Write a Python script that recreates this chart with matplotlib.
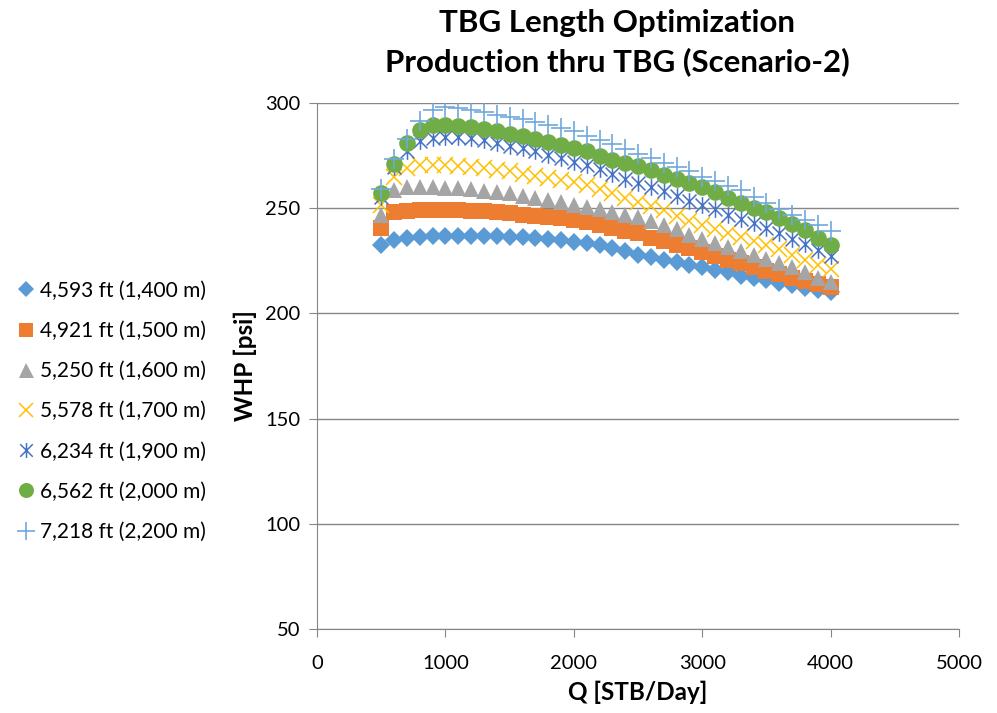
import numpy as np
import matplotlib
matplotlib.use("Agg")
from matplotlib import pyplot as plt
from matplotlib.path import Path

plt.rcParams['font.family'] = ['Lato', 'DejaVu Sans']

# flow rate, STB/Day
q = [500, 600, 700, 800, 900, 1000, 1100, 1200, 1300, 1400, 1500, 1600,
     1700, 1800, 1900, 2000, 2100, 2200, 2300, 2400, 2500, 2600, 2700, 2800,
     2900, 3000, 3100, 3200, 3300, 3400, 3500, 3600, 3700, 3800, 3900, 4000]

# WHP, psi, one list per tubing length
whp_1400 = [232.5, 235, 236, 236.5, 237, 237, 237, 237, 237, 237, 236.5, 236.5,
            236, 235.5, 235, 234, 233.5, 232.5, 231, 229.5, 228, 227, 225.5, 224.5,
            223, 222, 220.5, 219.5, 218, 217, 216, 214.5, 213.5, 212, 211, 210]
whp_1500 = [240.5, 248, 248.5, 249, 249, 249, 249, 248.5, 248.5, 248, 247.5, 247,
            246.5, 246, 245.5, 244.5, 243.5, 242, 240.5, 239, 238, 236, 234.5, 232.5,
            231, 229, 227.5, 225.5, 224, 222, 220, 218.5, 217, 215.5, 214, 212.5]
whp_1600 = [247, 258.5, 260, 260, 260, 259.5, 259.5, 259, 258, 257.5, 257, 256,
            255, 254, 253, 251.5, 250.5, 249.5, 248, 247, 246, 244, 242, 240,
            237.5, 235.5, 233.5, 231.5, 229.5, 228, 226, 224, 222, 219.5, 217, 215]
whp_1700 = [251.5, 265, 269, 270.5, 270.5, 270.5, 270, 269.5, 269, 268, 267.5, 266.5,
            265.5, 264.5, 263.5, 262.5, 261, 259, 257, 255, 253, 251, 249, 246.5,
            244, 242, 240, 238, 236.5, 234.5, 232.5, 230.5, 228, 225.5, 223, 221]
whp_1900 = [255.5, 269.5, 277, 282, 283.5, 284, 284, 283.5, 282.5, 281, 279.5, 278.5,
            277, 275.5, 274, 272, 270.5, 268.5, 266.5, 264, 262, 260, 258, 256,
            253.5, 251.5, 249.5, 247, 245, 243, 240.5, 238, 235.5, 233, 230, 227.5]
whp_2000 = [257, 271, 281, 287, 289.5, 289.5, 289, 288.5, 287.5, 286.5, 285.5, 284.5,
            283, 281.5, 280, 278.5, 277, 275, 273, 271.5, 270, 268, 266, 264,
            262, 260, 257.5, 255, 252.5, 250, 248, 245.5, 242.5, 239.5, 236, 232.5]
whp_2200 = [259, 273.5, 283, 291.5, 296.5, 298, 297.5, 296.5, 295.5, 294.5, 293.5, 292.5,
            291, 289.5, 288, 286.5, 284.5, 282.5, 280.5, 278, 276, 274, 271.5, 269.5,
            267.5, 265, 263, 260.5, 258.5, 255.5, 252.5, 249.5, 247, 244.5, 242, 239]

labels = ['4,593 ft (1,400 m)', '4,921 ft (1,500 m)', '5,250 ft (1,600 m)',
          '5,578 ft (1,700 m)', '6,234 ft (1,900 m)', '6,562 ft (2,000 m)',
          '7,218 ft (2,200 m)']

# excel style asterisk: an x with a vertical bar
star = Path([(-0.5, -0.5), (0.5, 0.5), (-0.5, 0.5), (0.5, -0.5), (0, -0.6), (0, 0.6)],
            [Path.MOVETO, Path.LINETO, Path.MOVETO, Path.LINETO, Path.MOVETO, Path.LINETO])

styles = [
    dict(marker='D', ms=9.5, color='#5B9BD5', mew=0),
    dict(marker='s', ms=11, color='#ED7D31', mew=0),
    dict(marker='^', ms=12, color='#A5A5A5', mew=0),
    dict(marker='x', ms=11, color='#FFC000', mew=1.1),
    dict(marker=star, ms=12, color='#4472C4', mew=1.1),
    dict(marker='o', ms=12, color='#70AD47', mew=0),
    dict(marker='+', ms=14, color='#6FA8DC', mew=1.2),
]

series = [whp_1400, whp_1500, whp_1600, whp_1700, whp_1900, whp_2000, whp_2200]

fig = plt.figure(figsize=(9.97, 7.13), dpi=100)
ax = fig.add_axes([0.318, 0.1178, 0.644, 0.7377])

for vals, lab, st in zip(series, labels, styles):
    ax.plot(q, vals, linestyle='none', label=lab, **st)

ax.set_xlim(0, 5000)
ax.set_ylim(50, 300)
ax.set_xticks([0, 1000, 2000, 3000, 4000, 5000])
ax.set_yticks([50, 100, 150, 200, 250, 300])
ax.yaxis.grid(True, color='#868686', lw=1)
ax.set_axisbelow(True)
for side in ['top', 'right']:
    ax.spines[side].set_visible(False)
for side in ['left', 'bottom']:
    ax.spines[side].set_color('#868686')
ax.tick_params(axis='both', colors='#868686', labelcolor='black', labelsize=14.5,
               length=6, direction='out')
ax.tick_params(axis='x', pad=13)
ax.tick_params(axis='y', pad=6)

ax.set_xlabel('Q [STB/Day]', fontsize=17.5, fontweight='bold', labelpad=6)
ax.set_ylabel('WHP [psi]', fontsize=17.5, fontweight='bold', labelpad=6)

fig.text(0.619, 0.987, 'TBG Length Optimization\nProduction thru TBG (Scenario-2)',
         ha='center', va='top', fontsize=22.5, fontweight='bold', linespacing=1.42)

leg = ax.legend(loc='upper left', bbox_to_anchor=(0.008, 0.618), bbox_transform=fig.transFigure,
                frameon=False, fontsize=15, handlelength=0.9, handletextpad=0.25,
                labelspacing=0.97, markerscale=0.9, borderaxespad=0)

fig.savefig('out.png', dpi=100)
